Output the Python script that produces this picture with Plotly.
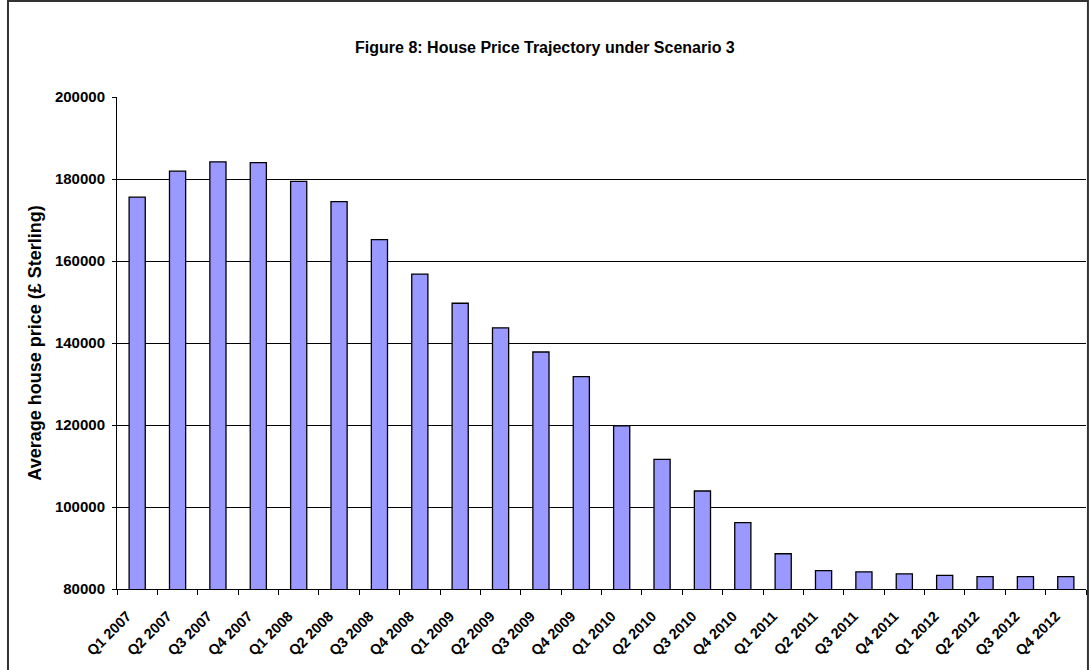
import plotly.graph_objects as go

# Quarterly labels and average house price under scenario 3 (GBP)
quarters = ['Q1 2007', 'Q2 2007', 'Q3 2007', 'Q4 2007',
            'Q1 2008', 'Q2 2008', 'Q3 2008', 'Q4 2008',
            'Q1 2009', 'Q2 2009', 'Q3 2009', 'Q4 2009',
            'Q1 2010', 'Q2 2010', 'Q3 2010', 'Q4 2010',
            'Q1 2011', 'Q2 2011', 'Q3 2011', 'Q4 2011',
            'Q1 2012', 'Q2 2012', 'Q3 2012', 'Q4 2012']
prices = [175600, 181900, 184200, 184000,
          179400, 174500, 165200, 156800,
          149700, 143700, 137800, 131800,
          119800, 111600, 103900, 96200,
          88600, 84500, 84200, 83700,
          83300, 83000, 83000, 83000]
y_ticks = [80000, 100000, 120000, 140000, 160000, 180000, 200000]

FONT = 'Liberation Sans, Arial, sans-serif'

fig = go.Figure(go.Bar(
    x=quarters, y=prices,
    marker=dict(color='#9999FF', line=dict(color='black', width=1.3)),
))

fig.update_layout(
    width=1092, height=670,
    margin=dict(l=117, r=6, t=97, b=81, autoexpand=False),
    paper_bgcolor='white', plot_bgcolor='white',
    font=dict(family=FONT, color='black'),
    bargap=0.6,
    showlegend=False,
    title=dict(text='Figure 8: House Price Trajectory under Scenario 3',
               x=0.499, xanchor='center', y=0.93, yanchor='middle',
               yref='container',
               font=dict(size=16, family=FONT, weight='bold', color='black')),
)

fig.update_xaxes(
    type='category', tickangle=-45,
    tickfont=dict(size=14.5, family=FONT, weight='bold'),
    ticklabelstandoff=12, ticklabelshift=-10,
    showline=True, linecolor='black', linewidth=1,
    ticks='outside', tickson='boundaries', ticklen=5, tickcolor='black',
    showgrid=False, mirror=False,
)
fig.update_yaxes(
    range=[80000, 200000], tickvals=y_ticks,
    tickformat='d',
    tickfont=dict(size=15, family=FONT, weight='bold'),
    ticklabelstandoff=4,
    showline=True, linecolor='black', linewidth=1,
    ticks='outside', ticklen=4, tickcolor='black',
    showgrid=True, gridcolor='black', gridwidth=1,
    zeroline=False,
    title=dict(text='Average house price (£ Sterling)', standoff=8,
               font=dict(size=18, family=FONT, weight='bold')),
)

# outer chart frame
fig.add_shape(type='rect', xref='paper', yref='paper',
              x0=-0.1125, x1=1.002, y0=-0.2, y1=1.195,
              line=dict(color='#333333', width=2), layer='below')

fig.write_html('out.html', config={'displayModeBar': False},
               post_script="document.body.style.margin='0';")
